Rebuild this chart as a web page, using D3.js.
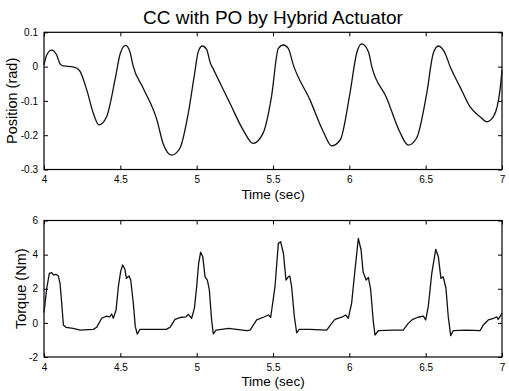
<!DOCTYPE html>
<html>
<head>
<meta charset="utf-8">
<script src="https://cdn.jsdelivr.net/npm/d3@7"></script>
<style>
  body { margin: 0; background: #fff; }
  svg { display: block; font-family: Arial, "Liberation Sans", sans-serif; }
</style>
</head>
<body>
<div id="chart"></div>
<script>
// chart text
var title = "CC with PO by Hybrid Actuator";
var xLabel = "Time (sec)";
var posLabel = "Position (rad)";
var torqueLabel = "Torque (Nm)";

// ticks
var xTicks = [4, 4.5, 5, 5.5, 6, 6.5, 7];
var posTicks = [0.1, 0, -0.1, -0.2, -0.3];
var torqueTicks = [6, 4, 2, 0, -2];

// position trace
var posTime = [4.0, 4.018, 4.05, 4.083, 4.105, 4.127, 4.19, 4.23, 4.28, 4.323, 4.36, 4.41, 4.465, 4.5, 4.535, 4.563, 4.585,
  4.65, 4.74, 4.78, 4.836, 4.89, 4.945, 4.99, 5.01, 5.037, 5.065, 5.09, 5.11, 5.218, 5.305, 5.37, 5.435, 5.49, 5.535,
  5.568, 5.6, 5.633, 5.742, 5.83, 5.884, 5.94, 6.004, 6.048, 6.081, 6.125, 6.147, 6.245, 6.33, 6.386, 6.44, 6.507,
  6.55, 6.583, 6.627, 6.66, 6.725, 6.79, 6.856, 6.9, 6.944, 6.987, 7.0];
var posValue = [0.005, 0.034, 0.048, 0.034, 0.008, 0.002, -0.001, -0.010, -0.068, -0.136, -0.170, -0.146, -0.039, 0.039, 0.062, 0.043, 0.0,
  -0.063, -0.156, -0.224, -0.258, -0.238, -0.136, -0.010, 0.043, 0.060, 0.050, 0.010, -0.008, -0.107, -0.185, -0.224, -0.194, -0.088, 0.053,
  0.063, 0.053, 0.005, -0.097, -0.190, -0.231, -0.214, -0.078, 0.039, 0.066, 0.043, 0.0, -0.092, -0.190, -0.229, -0.209, -0.078,
  0.039, 0.060, 0.039, 0.0, -0.059, -0.117, -0.146, -0.161, -0.146, -0.068, -0.010];

// torque trace
var torqueTime = [4.0, 4.018, 4.035, 4.05, 4.065, 4.078, 4.094, 4.105, 4.116, 4.127, 4.144, 4.19, 4.236, 4.323, 4.345, 4.378, 4.41, 4.43,
  4.443, 4.454, 4.472, 4.487, 4.502, 4.515, 4.53, 4.54, 4.557, 4.568, 4.585, 4.598, 4.611, 4.629, 4.694, 4.8, 4.825, 4.858,
  4.9, 4.93, 4.945, 4.967, 4.985, 5.0, 5.013, 5.026, 5.04, 5.055, 5.07, 5.083, 5.098, 5.109, 5.127, 5.21, 5.328, 5.35,
  5.393, 5.437, 5.47, 5.485, 5.513, 5.535, 5.55, 5.568, 5.585, 5.6, 5.61, 5.622, 5.64, 5.655, 5.672, 5.74, 5.852, 5.884,
  5.906, 5.95, 5.976, 5.993, 6.015, 6.037, 6.059, 6.077, 6.09, 6.11, 6.125, 6.14, 6.157, 6.168, 6.19, 6.29, 6.353, 6.386,
  6.415, 6.45, 6.485, 6.5, 6.517, 6.54, 6.566, 6.583, 6.6, 6.615, 6.633, 6.648, 6.664, 6.68, 6.766, 6.856, 6.878, 6.91,
  6.945, 6.965, 6.975, 7.0];
var torqueValue = [0.6, 2.03, 2.9, 2.94, 2.8, 2.85, 2.75, 2.32, 1.15, -0.12, -0.26, -0.32, -0.42, -0.38, -0.26, 0.27, 0.40, 0.35,
  0.52, 0.27, 0.75, 2.12, 3.0, 3.39, 3.14, 2.61, 2.75, 2.51, 1.15, -0.22, -0.65, -0.38, -0.38, -0.38, -0.26, 0.21,
  0.33, 0.35, 0.50, 0.27, 0.85, 2.12, 3.49, 4.14, 3.88, 2.7, 2.51, 1.93, 0.17, -0.65, -0.42, -0.32, -0.46, -0.42,
  0.17, 0.33, 0.46, 0.33, 2.12, 4.66, 4.76, 4.08, 2.51, 2.70, 2.75, 2.12, 0.36, -0.58, -0.38, -0.38, -0.42, -0.03,
  0.21, 0.33, 0.46, 0.27, 1.15, 3.1, 4.95, 4.27, 3.0, 2.51, 2.67, 1.93, 0.07, -0.71, -0.46, -0.42, -0.42, -0.03,
  0.21, 0.33, 0.40, 0.17, 0.95, 2.9, 4.31, 3.88, 2.61, 2.7, 2.03, 0.36, -0.75, -0.46, -0.42, -0.46, -0.12, 0.17,
  0.27, 0.35, 0.20, 0.56];

var W = 509, H = 391;
var left = 44, right = 502;

var svg = d3.select('#chart').append('svg')
  .attr('width', W)
  .attr('height', H);

svg.append('text')
  .attr('x', (left + right) / 2)
  .attr('y', 24)
  .attr('text-anchor', 'middle')
  .attr('font-size', 19)
  .text(title);

function drawPanel(top, bottom, xs, ys, yTicks, yLabel, yLabelX, curve){
  var x = d3.scaleLinear().domain([4, 7]).range([left, right]);
  var y = d3.scaleLinear().domain([yTicks[yTicks.length-1], yTicks[0]]).range([bottom, top]);
  var fmt = function(d){ return String(d); };

  var g = svg.append('g');

  // inward ticks on all four sides, labels only left/bottom
  var axes = [
    [d3.axisBottom(x).tickValues(xTicks).tickFormat(fmt), 'translate(0,'+bottom+')', 6.5],
    [d3.axisTop(x).tickValues(xTicks).tickFormat(''), 'translate(0,'+top+')', 6],
    [d3.axisLeft(y).tickValues(yTicks).tickFormat(fmt), 'translate('+left+',0)', 6],
    [d3.axisRight(y).tickValues(yTicks).tickFormat(''), 'translate('+right+',0)', 6]
  ];
  axes.forEach(function(a){
    var ax = g.append('g')
      .attr('transform', a[1])
      .call(a[0].tickSizeInner(-4).tickSizeOuter(0).tickPadding(a[2]));
    ax.select('.domain').remove();
    ax.selectAll('line').attr('stroke', '#000');
    ax.selectAll('text').attr('font-size', 10).attr('fill', '#000')
      .attr('font-family', 'Arial, "Liberation Sans", sans-serif');
  });

  g.append('rect')
    .attr('x', left).attr('y', top)
    .attr('width', right - left).attr('height', bottom - top)
    .attr('fill', 'none').attr('stroke', '#000').attr('stroke-width', 1.2);

  var line = d3.line()
    .x(function(d){ return x(d[0]); })
    .y(function(d){ return y(d[1]); })
    .curve(curve);

  g.append('path')
    .datum(d3.zip(xs, ys))
    .attr('fill', 'none')
    .attr('stroke', '#111')
    .attr('stroke-width', 1.3)
    .attr('stroke-linejoin', 'round')
    .attr('d', line);

  g.append('text')
    .attr('x', (left + right) / 2)
    .attr('y', bottom + 29)
    .attr('text-anchor', 'middle')
    .attr('font-size', 13.5)
    .text(xLabel);

  g.append('text')
    .attr('transform', 'translate('+yLabelX+','+((top + bottom) / 2)+') rotate(-90)')
    .attr('text-anchor', 'middle')
    .attr('font-size', 14.5)
    .text(yLabel);
}

drawPanel(32.3, 169.5, posTime, posValue, posTicks, posLabel, 17, d3.curveMonotoneX);
drawPanel(220.5, 357, torqueTime, torqueValue, torqueTicks, torqueLabel, 26, d3.curveLinear);
</script>
</body>
</html>
